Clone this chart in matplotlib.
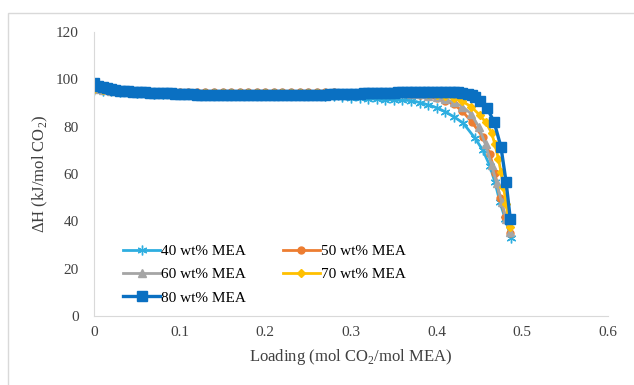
import matplotlib
matplotlib.use("Agg")
import matplotlib.pyplot as plt
from matplotlib.patches import Rectangle

plt.rcParams['font.family'] = ['Liberation Serif', 'DejaVu Serif']
plt.rcParams['mathtext.fontset'] = 'custom'
plt.rcParams['mathtext.rm'] = 'Liberation Serif'

# shared loading points for the 40-70 wt% series (plateau part)
x_base = [0.00, 0.01, 0.02, 0.03, 0.04, 0.05, 0.06, 0.07, 0.08, 0.09,
          0.10, 0.11, 0.12, 0.13, 0.14, 0.15, 0.16, 0.17, 0.18, 0.19,
          0.20, 0.21, 0.22, 0.23, 0.24, 0.25, 0.26, 0.27, 0.28, 0.29,
          0.30, 0.31, 0.32, 0.33, 0.34, 0.35, 0.36]

y40_base = [95.5, 95.2, 95.0, 94.8, 94.5, 94.3, 94.1, 94.0, 93.9, 93.8,
            93.7, 93.6, 93.5, 93.5, 93.5, 93.5, 93.5, 93.5, 93.5, 93.5,
            93.5, 93.5, 93.5, 93.5, 93.4, 93.3, 93.2, 93.0, 92.8, 92.5,
            92.2, 92.0, 91.8, 91.6, 91.4, 91.3, 91.2]
x40_tail = [0.37, 0.38, 0.39, 0.40, 0.41, 0.42, 0.431, 0.445, 0.454, 0.462,
            0.468, 0.474, 0.480, 0.487]
y40_tail = [91.0, 90.2, 89.2, 88.0, 86.3, 84.2, 81.5, 75.0, 70.0, 63.5,
            56.5, 48.0, 41.0, 33.0]

y50_base = [96.0, 95.6, 95.3, 95.0, 94.9, 94.8, 94.8, 94.8, 94.8, 94.8,
            94.8, 94.8, 94.8, 94.8, 94.8, 94.8, 94.8, 94.8, 94.8, 94.8,
            94.8, 94.8, 94.8, 94.8, 94.8, 94.8, 94.8, 94.7, 94.5, 94.4,
            94.3, 94.3, 94.3, 94.3, 94.3, 94.3, 94.2]
x50_tail = [0.37, 0.38, 0.39, 0.40, 0.41, 0.42, 0.43, 0.441, 0.454, 0.462,
            0.468, 0.474, 0.480, 0.486]
y50_tail = [94.0, 93.5, 92.8, 92.0, 91.0, 89.5, 86.5, 82.0, 75.5, 68.5,
            60.5, 50.0, 42.0, 35.0]

y60_base = [95.8, 95.5, 95.2, 95.0, 94.9, 94.8, 94.8, 94.8, 94.8, 94.8,
            94.8, 94.8, 94.8, 94.8, 94.8, 94.8, 94.8, 94.8, 94.8, 94.8,
            94.8, 94.8, 94.8, 94.8, 94.8, 94.8, 94.8, 94.7, 94.5, 94.4,
            94.3, 94.3, 94.3, 94.3, 94.3, 94.3, 94.2]
x60_tail = [0.37, 0.38, 0.39, 0.40, 0.41, 0.42, 0.43, 0.44, 0.449, 0.457,
            0.464, 0.470, 0.476, 0.481, 0.486]
y60_tail = [94.0, 93.6, 93.0, 92.4, 91.5, 90.3, 88.5, 85.5, 80.0, 72.5,
            64.0, 56.0, 48.0, 41.0, 35.5]

y70_base = [95.8, 95.3, 95.0, 94.7, 94.5, 94.3, 94.3, 94.3, 94.3, 94.3,
            94.3, 94.3, 94.3, 94.3, 94.3, 94.3, 94.3, 94.3, 94.3, 94.3,
            94.3, 94.3, 94.3, 94.3, 94.3, 94.3, 94.3, 94.3, 94.3, 94.3,
            94.4, 94.4, 94.4, 94.4, 94.4, 94.4, 94.4]
x70_tail = [0.37, 0.38, 0.39, 0.40, 0.41, 0.42, 0.43, 0.44, 0.45, 0.457,
            0.464, 0.468, 0.472, 0.475, 0.478, 0.481, 0.484, 0.486]
y70_tail = [94.4, 94.2, 93.9, 93.5, 93.0, 92.0, 90.7, 88.5, 85.0, 82.0,
            77.5, 72.5, 66.5, 61.0, 54.5, 47.5, 40.5, 37.5]

x80 = [0.000, 0.005, 0.010, 0.015, 0.020, 0.025, 0.030, 0.035, 0.040, 0.045,
       0.050, 0.055, 0.060, 0.065, 0.070, 0.075, 0.080, 0.085, 0.090, 0.095,
       0.100, 0.105, 0.110, 0.115, 0.120, 0.125, 0.130, 0.135, 0.140, 0.145,
       0.150, 0.155, 0.160, 0.165, 0.170, 0.175, 0.180, 0.185, 0.190, 0.195,
       0.200, 0.205, 0.210, 0.215, 0.220, 0.225, 0.230, 0.235, 0.240, 0.245,
       0.250, 0.255, 0.260, 0.265, 0.270, 0.275, 0.280, 0.285, 0.290, 0.295,
       0.300, 0.305, 0.310, 0.315, 0.320, 0.325, 0.330, 0.335, 0.340, 0.345,
       0.350, 0.355, 0.360, 0.365, 0.370, 0.375, 0.380, 0.385, 0.390, 0.395,
       0.400, 0.405, 0.410, 0.415, 0.420, 0.425, 0.430, 0.436, 0.441, 0.445,
       0.450, 0.459, 0.467, 0.475, 0.481, 0.486]
y80 = [98.5, 97.2, 96.6, 96.2, 95.8, 95.5, 95.2, 95.0, 94.9, 94.8,
       94.7, 94.6, 94.5, 94.4, 94.4, 94.3, 94.2, 94.1, 94.1, 94.0,
       93.9, 93.8, 93.7, 93.6, 93.5, 93.4, 93.4, 93.4, 93.4, 93.4,
       93.4, 93.4, 93.4, 93.4, 93.4, 93.4, 93.4, 93.4, 93.4, 93.4,
       93.4, 93.4, 93.4, 93.4, 93.4, 93.4, 93.4, 93.4, 93.4, 93.4,
       93.4, 93.4, 93.4, 93.4, 93.4, 93.6, 93.7, 93.8, 93.8, 93.9,
       93.9, 94.0, 94.0, 94.1, 94.1, 94.2, 94.2, 94.3, 94.3, 94.4,
       94.4, 94.5, 94.5, 94.6, 94.6, 94.6, 94.6, 94.6, 94.6, 94.6,
       94.6, 94.6, 94.6, 94.6, 94.6, 94.5, 94.3, 93.8, 93.2, 92.4,
       91.0, 87.7, 82.0, 71.5, 56.7, 40.8]

labels = ['40 wt% MEA', '50 wt% MEA', '60 wt% MEA', '70 wt% MEA', '80 wt% MEA']
colors = ['#2eaee0', '#ed7d31', '#a5a5a5', '#ffc000', '#0a70c2']
x_ticks = [0, 0.1, 0.2, 0.3, 0.4, 0.5, 0.6]
x_tick_labels = ['0', '0.1', '0.2', '0.3', '0.4', '0.5', '0.6']
y_ticks = [0, 20, 40, 60, 80, 100, 120]

fig = plt.figure(figsize=(6.34, 3.85), dpi=100)
ax = fig.add_axes([0.1483, 0.1792, 0.8107, 0.7377])

# light frame around the chart area, like the Excel chart border
fig.patches.append(Rectangle((8 / 634, -0.01), 1.0, 1 - 13 / 385 + 0.01,
                             transform=fig.transFigure, fill=False,
                             edgecolor='#d9d9d9', linewidth=1.0))

series = [
    (x_base + x40_tail, y40_base + y40_tail, (6, 2, 0), 7, 2.0),
    (x_base + x50_tail, y50_base + y50_tail, 'o', 5, 2.0),
    (x_base + x60_tail, y60_base + y60_tail, '^', 5.5, 2.0),
    (x_base + x70_tail, y70_base + y70_tail, 'D', 4.5, 2.0),
    (x80, y80, 's', 6.5, 2.4),
]
handles = []
for (xs, ys, mk, ms, lw), lab, c in zip(series, labels, colors):
    h, = ax.plot(xs, ys, color=c, lw=lw, marker=mk, ms=ms,
                 markerfacecolor=c, markeredgecolor=c, markeredgewidth=1.0,
                 label=lab)
    handles.append(h)

ax.set_xlim(0, 0.6)
ax.set_ylim(0, 120)
ax.set_xticks(x_ticks)
ax.set_xticklabels(x_tick_labels)
ax.set_yticks(y_ticks)
ax.tick_params(length=0, labelsize=11, colors='#404040')
ax.tick_params(axis='y', pad=11)
ax.tick_params(axis='x', pad=7)
for s in ['top', 'right']:
    ax.spines[s].set_visible(False)
for s in ['left', 'bottom']:
    ax.spines[s].set_color('#d9d9d9')

ax.set_xlabel('Loading (mol CO$_2$/mol MEA)', fontsize=12, color='#404040',
              labelpad=6)
ax.set_ylabel('ΔH (kJ/mol CO$_2$)', fontsize=12, color='#404040')

order = [0, 2, 4, 1, 3]
ax.legend([handles[i] for i in order], [labels[i] for i in order],
          ncol=2, loc='upper left', bbox_to_anchor=(0.03, 0.30),
          frameon=False, fontsize=11, handlelength=2.4, columnspacing=2.4,
          labelspacing=0.62, handletextpad=0.1)

fig.savefig('out.png', dpi=100)
